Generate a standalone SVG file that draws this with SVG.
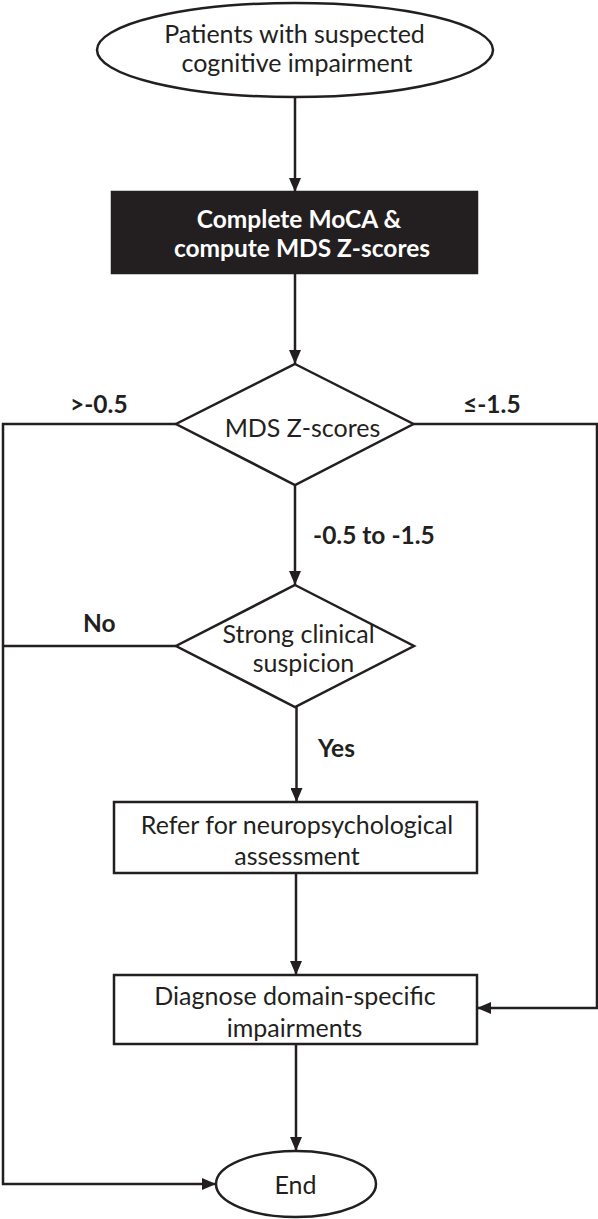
<svg xmlns="http://www.w3.org/2000/svg" width="598" height="1219" viewBox="0 0 598 1219">
<style>
.shape{fill:#fff;stroke:#231f20;stroke-width:2.5}
.dark{fill:#231f20;stroke:#231f20;stroke-width:2.5}
.t{font-family:Lato,"Open Sans","Liberation Sans",sans-serif;font-size:25px;fill:#231f20;text-anchor:middle}
.tw{font-family:Lato,"Open Sans","Liberation Sans",sans-serif;font-size:24.5px;font-weight:bold;fill:#fff;text-anchor:middle}
.lb{font-family:Lato,"Open Sans","Liberation Sans",sans-serif;font-size:24.5px;font-weight:bold;fill:#231f20}
.c{fill:none;stroke:#231f20;stroke-width:2.5}
</style>
<defs>
<marker id="ah" markerUnits="userSpaceOnUse" markerWidth="14" markerHeight="12" refX="14" refY="6" orient="auto">
<path d="M0,0 L14,6 L0,12 Z" fill="#231f20"/>
</marker>
</defs>
<g id="connectors">
<line class="c" x1="295" y1="97" x2="295" y2="192" marker-end="url(#ah)"/>
<line class="c" x1="295" y1="273" x2="295" y2="364" marker-end="url(#ah)"/>
<line class="c" x1="295" y1="485" x2="295" y2="585" marker-end="url(#ah)"/>
<line class="c" x1="296.5" y1="707" x2="296.5" y2="802" marker-end="url(#ah)"/>
<line class="c" x1="296" y1="873" x2="296" y2="975" marker-end="url(#ah)"/>
<line class="c" x1="296" y1="1044" x2="296" y2="1151" marker-end="url(#ah)"/>
<polyline class="c" points="176,424 3,424 3,1184 216,1184" marker-end="url(#ah)"/>
<line class="c" x1="176" y1="646" x2="3" y2="646"/>
<polyline class="c" points="413.5,424 597,424 597,1008 477,1008" marker-end="url(#ah)"/>
<text class="lb" x="70" y="413">&gt;-0.5</text>
<text class="lb" x="463" y="413">≤-1.5</text>
<text class="lb" x="313" y="544">-0.5 to -1.5</text>
<text class="lb" x="83" y="632">No</text>
<text class="lb" x="318" y="757">Yes</text>
</g>
<g id="start">
<ellipse class="shape" cx="295" cy="50" rx="198" ry="47"/>
<text class="t" x="294.5" y="43">Patients with suspected</text>
<text class="t" x="297" y="72">cognitive impairment</text>
</g>
<g id="moca">
<rect class="dark" x="112" y="192" width="365" height="81"/>
<text class="tw" x="299" y="228">Complete MoCA &amp;</text>
<text class="tw" x="302" y="257">compute MDS Z-scores</text>
</g>
<g id="mds">
<polygon class="shape" points="295,364 413.5,424 295,485 176,424"/>
<text class="t" x="302.5" y="437">MDS Z-scores</text>
</g>
<g id="suspicion">
<polygon class="shape" points="295,585 414,646 295,707 176,646"/>
<text class="t" x="298.5" y="643">Strong clinical</text>
<text class="t" x="303.5" y="672">suspicion</text>
</g>
<g id="refer">
<rect class="shape" x="114" y="802" width="363" height="71"/>
<text class="t" x="297" y="834">Refer for neuropsychological</text>
<text class="t" x="297" y="865">assessment</text>
</g>
<g id="diagnose">
<rect class="shape" x="114" y="975" width="363" height="69"/>
<text class="t" x="295" y="1005">Diagnose domain-specific</text>
<text class="t" x="294.5" y="1037">impairments</text>
</g>
<g id="end">
<ellipse class="shape" cx="296" cy="1184" rx="80" ry="33"/>
<text class="t" x="295.5" y="1194">End</text>
</g>
</svg>
